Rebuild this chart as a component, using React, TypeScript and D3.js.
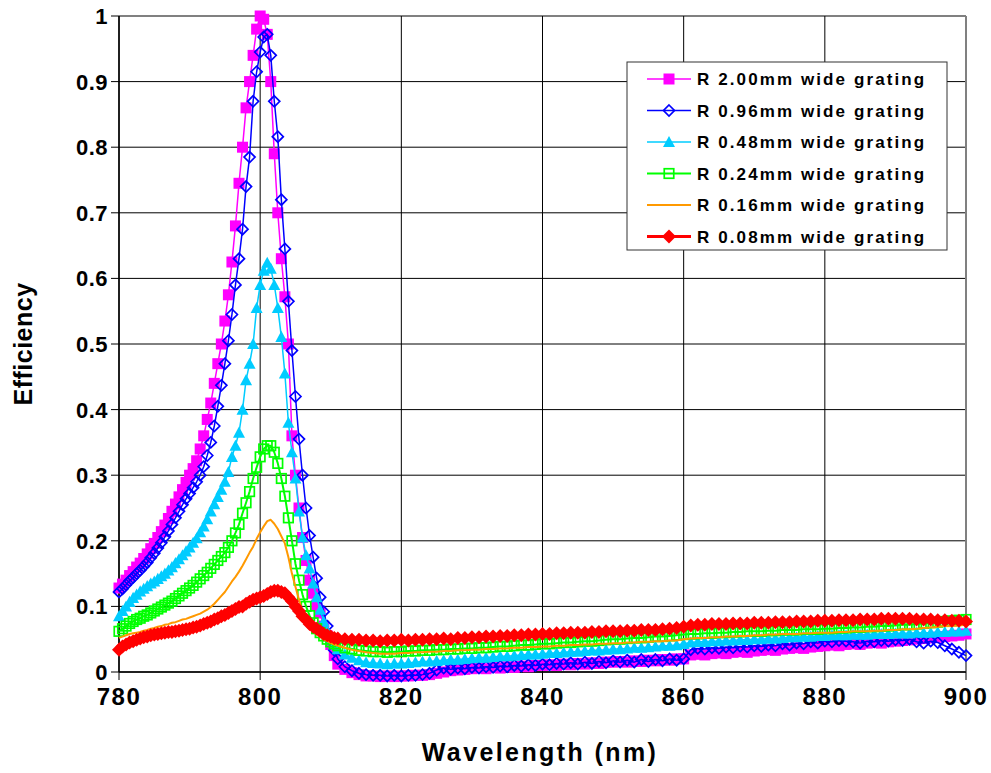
import React from 'react';
import * as d3 from 'd3';

// Wavelength grid (nm)
const wavelengths = [
  780, 780.5, 781, 781.5, 782, 782.5, 783, 783.5, 784, 784.5, 785, 785.5, 786, 786.5, 787, 787.5,
  788, 788.5, 789, 789.5, 790, 790.5, 791, 791.5, 792, 792.5, 793, 793.5, 794, 794.5, 795,
  795.5, 796, 796.5, 797, 797.5, 798, 798.5, 799, 799.5, 800,
  800.5, 801, 801.5, 802, 802.5, 803, 803.5, 804, 804.5, 805,
  805.5, 806, 806.5, 807, 807.5, 808, 808.5, 809, 809.5, 810,
  810.5, 811,
  812, 813, 814, 815, 816, 817, 818, 819, 820, 821, 822, 823, 824, 825, 826, 827, 828, 829,
  830, 831, 832, 833, 834, 835, 836, 837, 838, 839, 840, 841, 842, 843, 844, 845, 846, 847, 848, 849,
  850, 851, 852, 853, 854, 855, 856, 857, 858, 859, 860, 861, 862, 863, 864, 865, 866, 867, 868, 869,
  870, 871, 872, 873, 874, 875, 876, 877, 878, 879, 880, 881, 882, 883, 884, 885, 886, 887, 888, 889,
  890, 891, 892, 893, 894, 895, 896, 897, 898, 899, 900,
];

const r200 = [
  0.128, 0.134, 0.14, 0.147, 0.153, 0.16, 0.166, 0.173, 0.18, 0.188, 0.196, 0.205, 0.214, 0.224, 0.234, 0.245,
  0.256, 0.267, 0.278, 0.289, 0.3, 0.31, 0.322, 0.34, 0.36, 0.385, 0.41, 0.44, 0.47, 0.5, 0.535,
  0.575, 0.625, 0.68, 0.745, 0.8, 0.86, 0.9, 0.94, 0.98, 1.0,
  0.995, 0.972, 0.9, 0.79, 0.7, 0.63, 0.572, 0.5, 0.36, 0.3,
  0.25, 0.205, 0.17, 0.14, 0.12, 0.102, 0.09, 0.07, 0.055, 0.042,
  0.025, 0.012,
  0.004, -0.001, -0.004, -0.006, -0.006, -0.007, -0.006, -0.007, -0.006, -0.006, -0.005, -0.005, -0.004, -0.002, 0.0, 0.002, 0.003, 0.004,
  0.005, 0.006, 0.005, 0.007, 0.006, 0.008, 0.007, 0.009, 0.008, 0.01, 0.01, 0.011, 0.01, 0.012, 0.011, 0.013, 0.012, 0.014, 0.013, 0.015,
  0.015, 0.016, 0.015, 0.017, 0.016, 0.018, 0.017, 0.019, 0.018, 0.02, 0.02, 0.026, 0.027, 0.026, 0.028, 0.029, 0.028, 0.03, 0.031, 0.03,
  0.032, 0.033, 0.034, 0.033, 0.035, 0.036, 0.037, 0.036, 0.038, 0.039, 0.04, 0.041, 0.04, 0.042, 0.043, 0.042, 0.044, 0.045, 0.044, 0.046,
  0.047, 0.048, 0.049, 0.05, 0.051, 0.052, 0.053, 0.054, 0.055, 0.056, 0.058,
];

const r096 = [
  0.122, 0.127, 0.133, 0.139, 0.144, 0.15, 0.155, 0.161, 0.167, 0.174, 0.181, 0.189, 0.197, 0.206, 0.215, 0.225,
  0.235, 0.245, 0.255, 0.264, 0.272, 0.281, 0.29, 0.3, 0.313, 0.33, 0.35, 0.375, 0.405, 0.437, 0.47,
  0.505, 0.545, 0.59, 0.63, 0.675, 0.74, 0.785, 0.87, 0.915, 0.945,
  0.968, 0.972, 0.94, 0.87, 0.816, 0.72, 0.645, 0.565, 0.49, 0.42,
  0.355, 0.3, 0.25, 0.208, 0.175, 0.143, 0.114, 0.092, 0.07, 0.05,
  0.033, 0.02,
  0.008, 0.002, -0.002, -0.004, -0.005, -0.005, -0.006, -0.005, -0.006, -0.005, -0.005, -0.004, -0.002, 0.003, 0.006, 0.004, 0.006, 0.005,
  0.007, 0.006, 0.008, 0.007, 0.009, 0.008, 0.01, 0.009, 0.011, 0.01, 0.012, 0.011, 0.013, 0.012, 0.014, 0.012, 0.015, 0.013, 0.016, 0.014,
  0.017, 0.015, 0.018, 0.015, 0.019, 0.016, 0.019, 0.017, 0.02, 0.018, 0.02, 0.034, 0.036, 0.035, 0.037, 0.036, 0.038, 0.037, 0.039, 0.038,
  0.04, 0.039, 0.041, 0.04, 0.043, 0.041, 0.044, 0.043, 0.046, 0.044, 0.047, 0.046, 0.048, 0.047, 0.046, 0.044, 0.047, 0.046, 0.048, 0.047,
  0.049, 0.048, 0.05, 0.046, 0.044, 0.047, 0.045, 0.04, 0.035, 0.03, 0.025,
];

const r048 = [
  0.085, 0.093, 0.1, 0.107, 0.113, 0.118, 0.123, 0.127, 0.131, 0.135, 0.138, 0.142, 0.146, 0.15, 0.155, 0.16,
  0.166, 0.172, 0.178, 0.184, 0.19, 0.197, 0.204, 0.213, 0.222, 0.233, 0.245, 0.256, 0.267, 0.278, 0.29,
  0.305, 0.328, 0.345, 0.365, 0.4, 0.445, 0.47, 0.5, 0.555, 0.59,
  0.612, 0.624, 0.615, 0.59, 0.555, 0.511, 0.455, 0.38, 0.335, 0.295,
  0.245, 0.205, 0.178, 0.158, 0.135, 0.114, 0.095, 0.077, 0.063, 0.05,
  0.042, 0.035,
  0.027, 0.022, 0.018, 0.015, 0.014, 0.013, 0.012, 0.013, 0.013, 0.014, 0.015, 0.016, 0.016, 0.017, 0.018, 0.019, 0.019, 0.02,
  0.021, 0.022, 0.022, 0.023, 0.024, 0.024, 0.025, 0.026, 0.027, 0.027, 0.028, 0.029, 0.029, 0.03, 0.031, 0.031, 0.032, 0.033, 0.033, 0.034,
  0.035, 0.035, 0.036, 0.037, 0.037, 0.038, 0.039, 0.04, 0.04, 0.041, 0.043, 0.045, 0.046, 0.046, 0.047, 0.047, 0.048, 0.048, 0.049, 0.049,
  0.05, 0.05, 0.051, 0.051, 0.052, 0.053, 0.053, 0.054, 0.054, 0.055, 0.055, 0.056, 0.056, 0.056, 0.057, 0.057, 0.057, 0.058, 0.058, 0.058,
  0.059, 0.059, 0.059, 0.06, 0.06, 0.06, 0.061, 0.061, 0.062, 0.062, 0.063,
];

const r024 = [
  0.062, 0.066, 0.07, 0.074, 0.077, 0.08, 0.082, 0.085, 0.087, 0.09, 0.093, 0.096, 0.099, 0.102, 0.105, 0.108,
  0.112, 0.116, 0.12, 0.124, 0.128, 0.132, 0.137, 0.142, 0.147, 0.152, 0.158, 0.164, 0.17, 0.176, 0.182,
  0.19, 0.2, 0.212, 0.225, 0.242, 0.258, 0.275, 0.295, 0.312, 0.328,
  0.34, 0.345, 0.345, 0.335, 0.318, 0.295, 0.268, 0.235, 0.2, 0.165,
  0.14, 0.118, 0.1, 0.086, 0.075, 0.066, 0.06, 0.055, 0.05, 0.046,
  0.043, 0.04,
  0.037, 0.035, 0.033, 0.032, 0.031, 0.031, 0.03, 0.031, 0.031, 0.032, 0.032, 0.033, 0.033, 0.034, 0.034, 0.035, 0.035, 0.036,
  0.036, 0.037, 0.037, 0.038, 0.039, 0.039, 0.04, 0.041, 0.041, 0.042, 0.043, 0.043, 0.044, 0.045, 0.045, 0.046, 0.047, 0.047, 0.048, 0.049,
  0.05, 0.05, 0.051, 0.052, 0.052, 0.053, 0.054, 0.054, 0.055, 0.056, 0.057, 0.058, 0.058, 0.059, 0.059, 0.06, 0.06, 0.061, 0.061, 0.062,
  0.062, 0.062, 0.063, 0.063, 0.064, 0.064, 0.064, 0.065, 0.065, 0.065, 0.066, 0.066, 0.067, 0.067, 0.068, 0.068, 0.069, 0.069, 0.07, 0.07,
  0.071, 0.072, 0.072, 0.073, 0.074, 0.075, 0.076, 0.077, 0.078, 0.079, 0.08,
];

const r016 = [
  0.052, 0.054, 0.056, 0.058, 0.059, 0.06, 0.061, 0.063, 0.064, 0.066, 0.067, 0.069, 0.07, 0.072, 0.073, 0.075,
  0.076, 0.078, 0.08, 0.081, 0.083, 0.085, 0.087, 0.089, 0.092, 0.095, 0.099, 0.104, 0.11, 0.116, 0.122,
  0.13, 0.138, 0.145, 0.153, 0.162, 0.172, 0.182, 0.191, 0.203, 0.213,
  0.222, 0.23, 0.232, 0.226, 0.218, 0.207, 0.196, 0.175, 0.15, 0.13,
  0.11, 0.093, 0.08, 0.07, 0.063, 0.058, 0.054, 0.05, 0.047, 0.044,
  0.042, 0.04,
  0.037, 0.034, 0.032, 0.03, 0.029, 0.028, 0.028, 0.028, 0.029, 0.029, 0.03, 0.03, 0.031, 0.031, 0.032, 0.032, 0.033, 0.033,
  0.034, 0.034, 0.035, 0.035, 0.036, 0.036, 0.037, 0.037, 0.038, 0.038, 0.039, 0.039, 0.04, 0.04, 0.041, 0.041, 0.042, 0.042, 0.043, 0.043,
  0.044, 0.044, 0.045, 0.045, 0.046, 0.046, 0.047, 0.047, 0.048, 0.048, 0.05, 0.051, 0.052, 0.052, 0.053, 0.053, 0.054, 0.054, 0.055, 0.055,
  0.056, 0.056, 0.057, 0.057, 0.058, 0.058, 0.058, 0.059, 0.059, 0.06, 0.06, 0.06, 0.061, 0.061, 0.062, 0.062, 0.062, 0.063, 0.063, 0.064,
  0.064, 0.065, 0.065, 0.066, 0.067, 0.068, 0.069, 0.07, 0.07, 0.071, 0.072,
];

const r008 = [
  0.034, 0.039, 0.042, 0.045, 0.047, 0.049, 0.051, 0.053, 0.054, 0.056, 0.057, 0.058, 0.059, 0.06, 0.061, 0.061,
  0.062, 0.063, 0.064, 0.065, 0.066, 0.068, 0.069, 0.071, 0.073, 0.075, 0.077, 0.08, 0.082, 0.085, 0.087,
  0.09, 0.093, 0.096, 0.099, 0.1, 0.104, 0.107, 0.11, 0.112, 0.114,
  0.116, 0.119, 0.122, 0.124, 0.124, 0.122, 0.12, 0.114, 0.108, 0.1,
  0.093, 0.085, 0.08, 0.073, 0.069, 0.066, 0.062, 0.058, 0.056, 0.054,
  0.052, 0.051,
  0.05, 0.049, 0.049, 0.048, 0.048, 0.047, 0.048, 0.048, 0.049, 0.048, 0.049, 0.049, 0.05, 0.05, 0.051, 0.05, 0.052, 0.052,
  0.053, 0.053, 0.054, 0.054, 0.055, 0.055, 0.056, 0.056, 0.057, 0.057, 0.058, 0.058, 0.059, 0.059, 0.06, 0.06, 0.06, 0.061, 0.061, 0.062,
  0.062, 0.062, 0.063, 0.063, 0.064, 0.064, 0.064, 0.065, 0.066, 0.067, 0.069, 0.071, 0.072, 0.072, 0.073, 0.073, 0.073, 0.074, 0.074, 0.074,
  0.075, 0.075, 0.075, 0.076, 0.076, 0.076, 0.077, 0.077, 0.077, 0.078, 0.078, 0.078, 0.079, 0.079, 0.079, 0.08, 0.08, 0.08, 0.081, 0.081,
  0.081, 0.081, 0.081, 0.08, 0.08, 0.08, 0.079, 0.079, 0.078, 0.078, 0.077,
];

const seriesNames = [
  'R 2.00mm wide grating',
  'R 0.96mm wide grating',
  'R 0.48mm wide grating',
  'R 0.24mm wide grating',
  'R 0.16mm wide grating',
  'R 0.08mm wide grating',
];
const seriesValues = [r200, r096, r048, r024, r016, r008];
const seriesColors = ['#FF00FF', '#0000FF', '#00CCFF', '#00FF00', '#FF9900', '#FF0000'];
const seriesMarkers = ['square', 'diamondOpen', 'triangle', 'squareOpen', 'none', 'diamond'];
const seriesLineWidths = [1.5, 1.5, 1.5, 2, 2, 3];

const xTicks = [780, 800, 820, 840, 860, 880, 900];
const yTicks = [0, 0.1, 0.2, 0.3, 0.4, 0.5, 0.6, 0.7, 0.8, 0.9, 1];

const W = 991;
const H = 773;
const L = 119;
const R = 966;
const T = 16;
const B = 672;
const FONT = '"Liberation Sans", Arial, sans-serif';

function Marker({ type, cx, cy, color }: { type: string; cx: number; cy: number; color: string }) {
  if (type === 'square') {
    return <rect x={cx - 5.5} y={cy - 5.5} width={11} height={11} fill={color} />;
  }
  if (type === 'squareOpen') {
    return <rect x={cx - 4.75} y={cy - 4.75} width={9.5} height={9.5} fill="none" stroke={color} strokeWidth={1.7} />;
  }
  if (type === 'diamondOpen') {
    const s = 5.5;
    return (
      <path d={`M${cx},${cy - s}L${cx + s},${cy}L${cx},${cy + s}L${cx - s},${cy}Z`} fill="none" stroke={color} strokeWidth={1.7} />
    );
  }
  if (type === 'diamond') {
    const s = 7;
    return <path d={`M${cx},${cy - s}L${cx + s},${cy}L${cx},${cy + s}L${cx - s},${cy}Z`} fill={color} />;
  }
  if (type === 'triangle') {
    const s = 6;
    return <path d={`M${cx},${cy - s}L${cx + s},${cy + s * 0.85}L${cx - s},${cy + s * 0.85}Z`} fill={color} />;
  }
  return null;
}

export default function App() {
  const x = d3.scaleLinear().domain([780, 900]).range([L, R]);
  const y = d3.scaleLinear().domain([0, 1]).range([B, T]);
  const line = d3
    .line<number>()
    .x((_, i) => x(wavelengths[i]))
    .y((d) => y(d));

  const legendX = 627;
  const legendY = 62;
  const legendRowH = 31.5;

  return (
    <svg width={W} height={H} style={{ position: 'absolute', left: 0, top: 0, background: '#fff' }} fontFamily={FONT}>
      <rect x={0} y={0} width={W} height={H} fill="#fff" />
      {/* grid */}
      {yTicks.map((t) => (
        <line key={'gy' + t} x1={L} x2={R} y1={y(t)} y2={y(t)} stroke={t === 1 ? '#808080' : '#000'} strokeWidth={t === 1 ? 2 : 1} />
      ))}
      {xTicks.map((t) => (
        <line key={'gx' + t} x1={x(t)} x2={x(t)} y1={T} y2={B} stroke={t === 900 ? '#808080' : '#000'} strokeWidth={t === 900 ? 2 : 1} />
      ))}
      {/* axes */}
      <line x1={L} x2={L} y1={T} y2={B} stroke="#000" strokeWidth={1.5} />
      <line x1={L} x2={R} y1={B} y2={B} stroke="#000" strokeWidth={1.5} />
      {yTicks.map((t) => (
        <line key={'ty' + t} x1={L - 8} x2={L} y1={y(t)} y2={y(t)} stroke="#000" strokeWidth={1} />
      ))}
      {xTicks.map((t) => (
        <line key={'tx' + t} x1={x(t)} x2={x(t)} y1={B} y2={B + 8} stroke="#000" strokeWidth={1} />
      ))}
      {/* tick labels */}
      {yTicks.map((t) => (
        <text key={'ly' + t} x={L - 11} y={y(t)} dy="0.36em" textAnchor="end" fontSize={22} fontWeight="bold" letterSpacing={0.5}>
          {t === 0 || t === 1 ? String(t) : t.toFixed(1)}
        </text>
      ))}
      {xTicks.map((t) => (
        <text key={'lx' + t} x={x(t)} y={705} textAnchor="middle" fontSize={24} fontWeight="bold" letterSpacing={1.5}>
          {t}
        </text>
      ))}
      {/* axis titles */}
      <text x={540} y={761} textAnchor="middle" fontSize={25} fontWeight="bold" letterSpacing={2.4}>
        Wavelength (nm)
      </text>
      <text transform={`translate(32,344) rotate(-90)`} textAnchor="middle" fontSize={25} fontWeight="bold" letterSpacing={0.5}>
        Efficiency
      </text>
      {/* series */}
      {seriesValues.map((vals, si) => (
        <g key={'s' + si}>
          <path d={line(vals) || ''} fill="none" stroke={seriesColors[si]} strokeWidth={seriesLineWidths[si]} strokeLinejoin="round" />
          {vals.map((v, i) => (
            <Marker key={i} type={seriesMarkers[si]} cx={x(wavelengths[i])} cy={y(v)} color={seriesColors[si]} />
          ))}
        </g>
      ))}
      {/* legend */}
      <rect x={legendX} y={legendY} width={320} height={188} fill="#fff" stroke="#333" strokeWidth={1} />
      {seriesNames.map((name, i) => {
        const cy = legendY + 17 + i * legendRowH;
        return (
          <g key={'lg' + i}>
            <line x1={647} x2={691} y1={cy} y2={cy} stroke={seriesColors[i]} strokeWidth={seriesLineWidths[i]} />
            <Marker type={seriesMarkers[i]} cx={669} cy={cy} color={seriesColors[i]} />
            <text x={697} y={cy} dy="0.36em" fontSize={17} fontWeight="bold" letterSpacing={2.1}>
              {name}
            </text>
          </g>
        );
      })}
    </svg>
  );
}
